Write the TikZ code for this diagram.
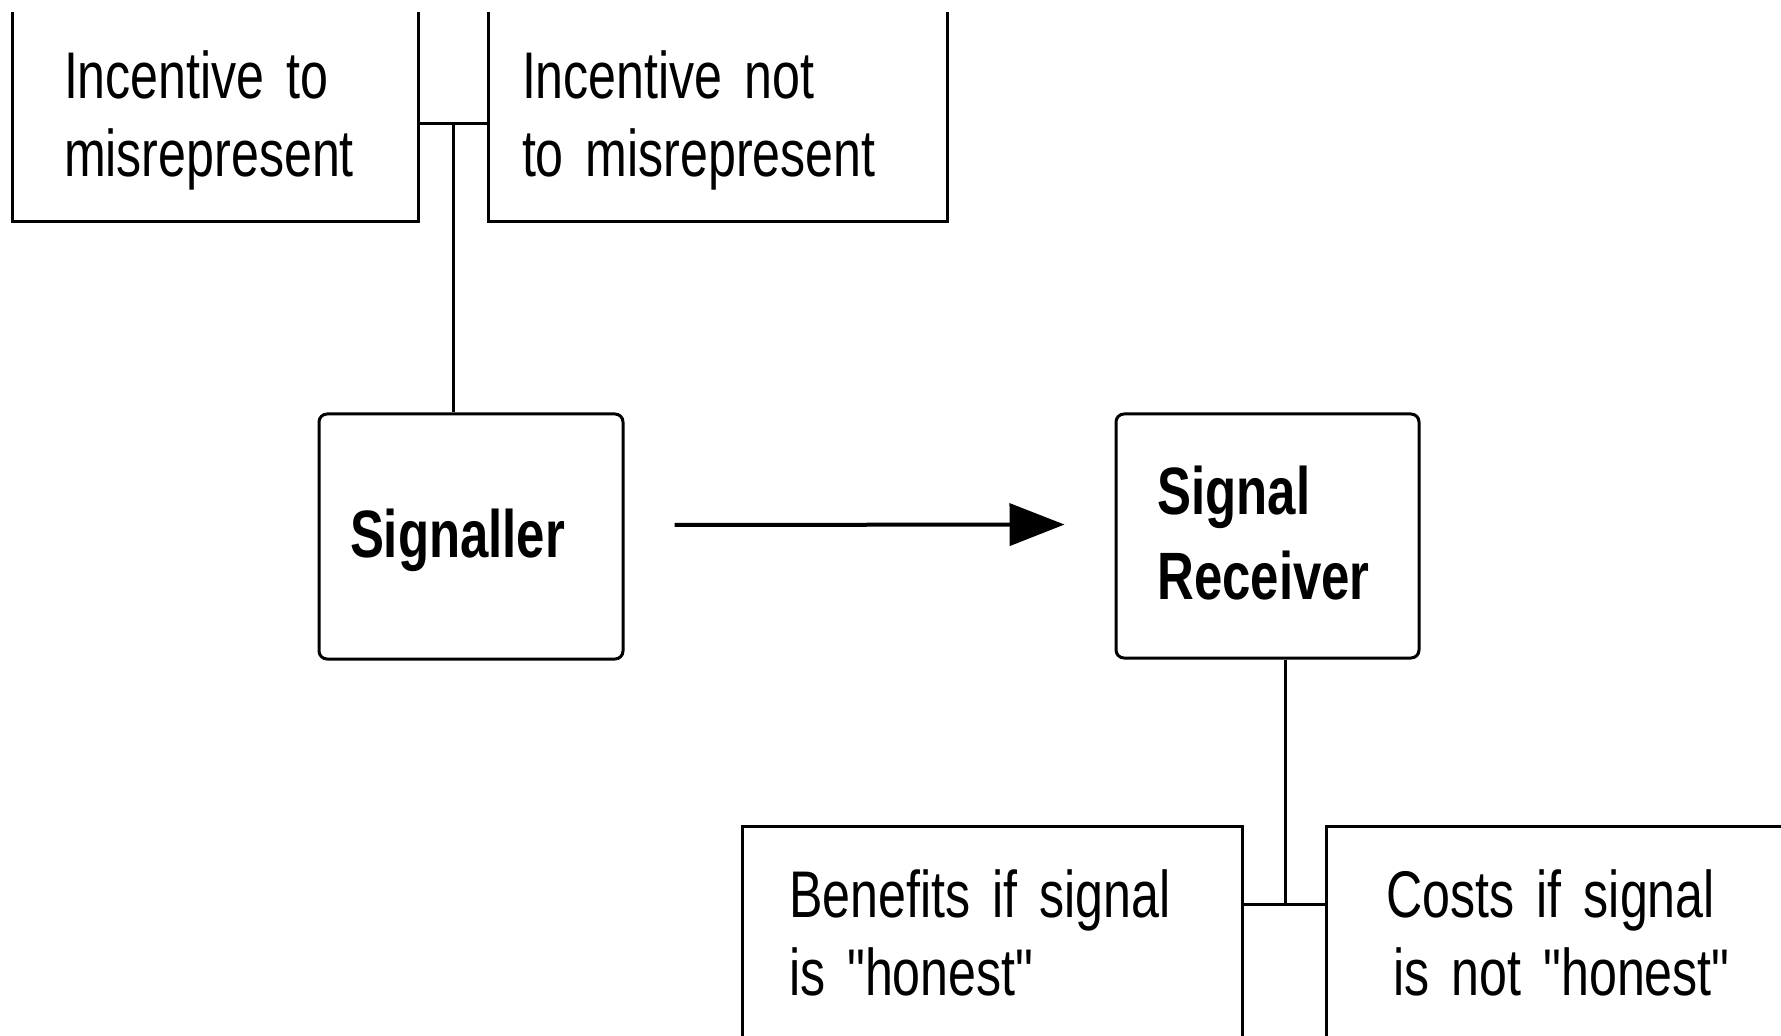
\documentclass[tikz,border=0pt]{standalone}
\usepackage{fontspec}
\setmainfont{Liberation Sans}[FakeStretch=0.76, Ligatures=TeXOff]
\usetikzlibrary{arrows.meta}

\begin{document}
\begin{tikzpicture}[x=0.5pt, y=-0.5pt, >={Triangle[length=27.5pt,width=21pt]},
    box/.style={draw, line width=1.5pt, inner sep=0pt, align=left, text height=34pt,
      font=\fontsize{33}{39}\selectfont},
    agent/.style={box, rounded corners=4pt, font=\bfseries\fontsize{33.5}{42.5}\selectfont},
    link/.style={line width=1.5pt}]
        \useasboundingbox (0,0) rectangle (1781,1036);
        \clip (0,13) rectangle (1781,1036);

        \node[box, minimum width=203pt, minimum height=106.3pt, text width=151pt] (incTo) at (215,115.7) {Incentive to\\misrepresent\strut};
        \node[box, minimum width=229.5pt, minimum height=106.3pt, text width=195.5pt] (incNot) at (717.5,115.7) {Incentive not\\to misrepresent\strut};
        \node[agent, minimum width=152pt, minimum height=122.5pt, text width=121pt, text height=21.5pt, text depth=0pt] (sig) at (471,536.5) {Signaller};
        \node[agent, minimum width=151.5pt, minimum height=122pt, text width=110pt, text height=34.25pt] (rec) at (1267.5,536) {Signal\\Receiver\strut};
        \node[box, minimum width=250pt, minimum height=107.7pt, text width=203pt] (ben) at (992,933.7) {Benefits if signal\\is "honest"\strut};
        \node[box, minimum width=250pt, minimum height=107.7pt, text width=189.5pt] (costs) at (1576,933.7) {Costs if signal\\\hspace*{3.5pt}is not "honest"\strut};

        \coordinate (topjoin) at (453,124);
        \coordinate (botjoin) at (1285,904);

        \draw[link] (incTo.east |- topjoin) -- (incNot.west |- topjoin);
        \draw[link] (topjoin) -- (topjoin |- sig.north);
        \draw[->, line width=2pt, shorten <=25pt, shorten >=25pt] ([yshift=5.75pt]sig.east) -- ([yshift=5.75pt]rec.west);
        \draw[link] (rec.south -| botjoin) -- (botjoin);
        \draw[link] (ben.east |- botjoin) -- (costs.west |- botjoin);
      \end{tikzpicture}
\end{document}
